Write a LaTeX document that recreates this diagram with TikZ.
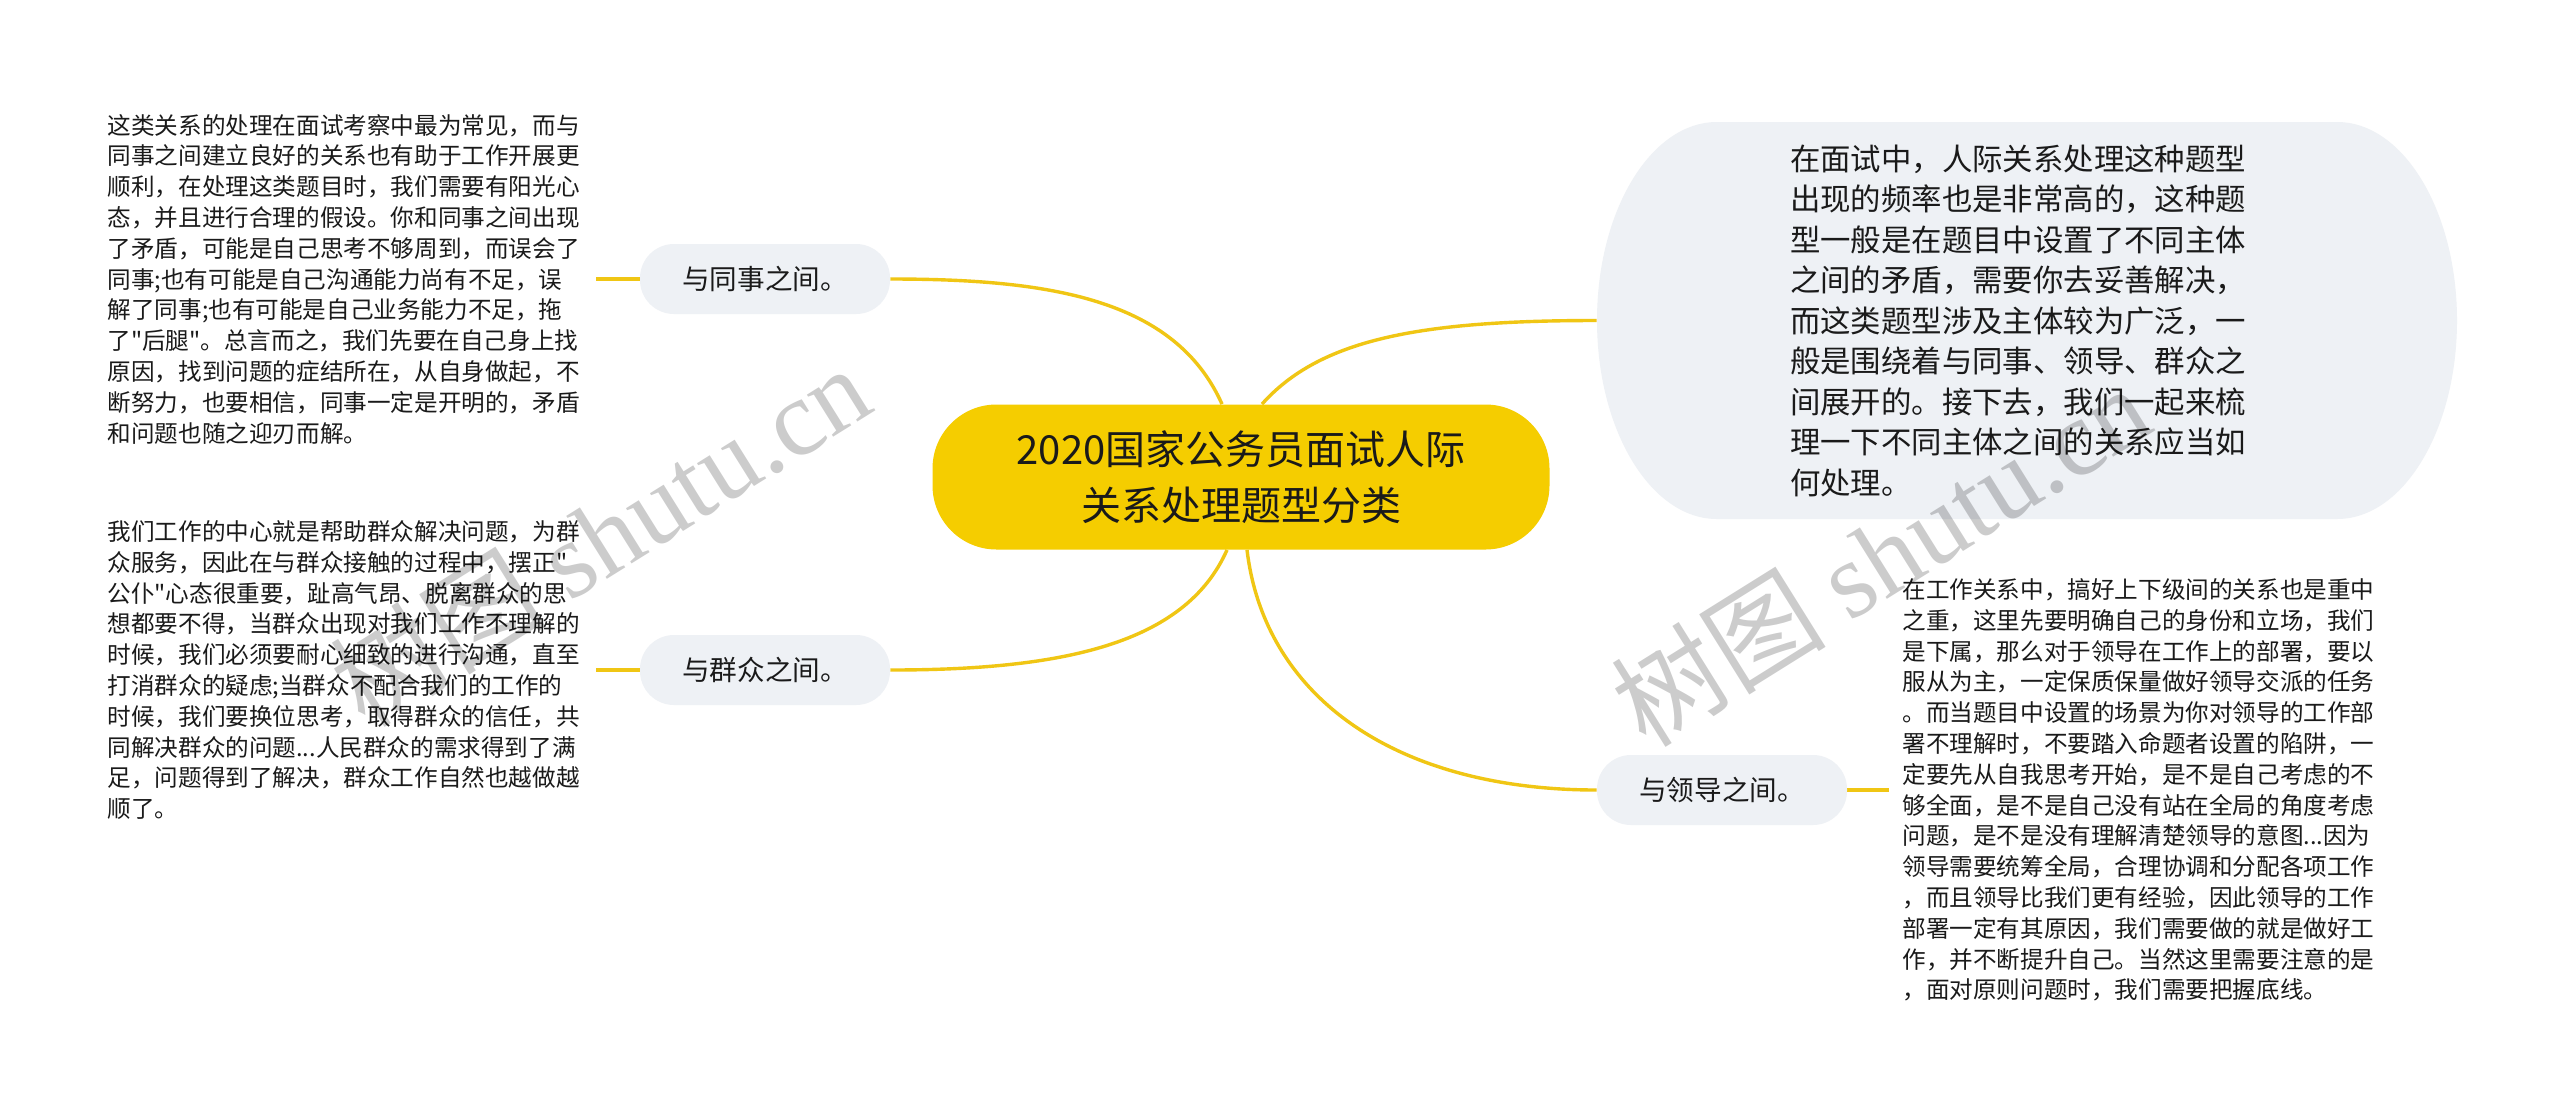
\documentclass[tikz,border=0pt]{standalone}
\usepackage{fontspec}
\setmainfont{Noto Sans CJK SC}[Ligatures=TeXOff]
\newfontfamily\wmfont{Liberation Serif}
\usetikzlibrary{backgrounds}
\definecolor{cyellow}{RGB}{245,205,0}
\definecolor{lyellow}{RGB}{240,198,20}
\definecolor{bfill}{RGB}{238,241,245}
\definecolor{tcol}{RGB}{26,26,26}
\tikzset{
  rootbox/.style={fill=cyellow, rounded corners=32pt, minimum width=308.5pt, minimum height=72.5pt,
    align=center, text=tcol, font=\fontsize{20}{28}\selectfont, inner sep=0pt},
  branchbox/.style={fill=bfill, rounded corners=17pt, minimum width=125pt, minimum height=35pt,
    text=tcol, font=\fontsize{13.8}{16}\selectfont, inner sep=0pt},
  detail/.style={align=left, text=tcol, font=\fontsize{11.8}{15.4}\selectfont, inner xsep=8pt, inner ysep=0pt},
  bubtext/.style={align=left, text=tcol, font=\fontsize{15.2}{20.25}\selectfont, inner sep=0pt},
  conn/.style={draw=lyellow, line width=1.7pt},
  wm/.style={text=black, text opacity=0.2, font=\fontsize{54}{54}\selectfont, inner sep=0pt}
}
\begin{document}
\begin{tikzpicture}[x=0.5pt,y=-0.5pt]
\useasboundingbox (0,0) rectangle (2560,1115);

% central node
\node[rootbox] (root) at (1241,477) {2020国家公务员面试人际\\关系处理题型分类};

% branch nodes
\node[branchbox] (ts) at (765,279) {与同事之间。};
\node[branchbox] (qz) at (765,670) {与群众之间。};
\node[branchbox] (ld) at (1722,790) {与领导之间。};

% bubble area (invisible frame) and its text
\node[minimum width=430pt, minimum height=198.5pt, inner sep=0pt] (bub) at (2027,320.5) {};
\node[bubtext] (bubt) at (2018,320.5) {在面试中，人际关系处理这种题型\\
出现的频率也是非常高的，这种题\\
型一般是在题目中设置了不同主体\\
之间的矛盾，需要你去妥善解决，\\
而这类题型涉及主体较为广泛，一\\
般是围绕着与同事、领导、群众之\\
间展开的。接下去，我们一起来梳\\
理一下不同主体之间的关系应当如\\
何处理。};

% detail texts
\node[detail, anchor=east] (tst) at (596,279) {这类关系的处理在面试考察中最为常见，而与\\
同事之间建立良好的关系也有助于工作开展更\\
顺利，在处理这类题目时，我们需要有阳光心\\
态，并且进行合理的假设。你和同事之间出现\\
了矛盾，可能是自己思考不够周到，而误会了\\
同事;也有可能是自己沟通能力尚有不足，误\\
解了同事;也有可能是自己业务能力不足，拖\\
了"后腿"。总言而之，我们先要在自己身上找\\
原因，找到问题的症结所在，从自身做起，不\\
断努力，也要相信，同事一定是开明的，矛盾\\
和问题也随之迎刃而解。};

\node[detail, anchor=east] (qzt) at (596,670) {我们工作的中心就是帮助群众解决问题，为群\\
众服务，因此在与群众接触的过程中，摆正"\\
公仆"心态很重要，趾高气昂、脱离群众的思\\
想都要不得，当群众出现对我们工作不理解的\\
时候，我们必须要耐心细致的进行沟通，直至\\
打消群众的疑虑;当群众不配合我们的工作的\\
时候，我们要换位思考，取得群众的信任，共\\
同解决群众的问题...人民群众的需求得到了满\\
足，问题得到了解决，群众工作自然也越做越\\
顺了。};

\node[detail, anchor=west, inner xsep=6.5pt] (ldt) at (1889,790) {在工作关系中，搞好上下级间的关系也是重中\\
之重，这里先要明确自己的身份和立场，我们\\
是下属，那么对于领导在工作上的部署，要以\\
服从为主，一定保质保量做好领导交派的任务\\
。而当题目中设置的场景为你对领导的工作部\\
署不理解时，不要踏入命题者设置的陷阱，一\\
定要先从自我思考开始，是不是自己考虑的不\\
够全面，是不是自己没有站在全局的角度考虑\\
问题，是不是没有理解清楚领导的意图...因为\\
领导需要统筹全局，合理协调和分配各项工作\\
，而且领导比我们更有经验，因此领导的工作\\
部署一定有其原因，我们需要做的就是做好工\\
作，并不断提升自己。当然这里需要注意的是\\
，面对原则问题时，我们需要把握底线。};

\begin{pgfonlayer}{background}
  \fill[white] (0,0) rectangle (2560,1115);
  % connectors
  \draw[conn] ([xshift=-9.5pt]root.north) .. controls +(-47,-105) and +(160,0) .. (ts.east);
  \draw[conn] ([xshift=10.5pt]root.north) .. controls +(58,-65) and +(-177,0) .. (bub.west);
  \draw[conn] ([xshift=-7pt]root.south) .. controls +(-42,95) and +(170,0) .. (qz.east);
  \draw[conn] ([xshift=3pt]root.south) .. controls +(18,150) and +(-197,0) .. (ld.west);
  \draw[conn] (ts.west) -- (tst.east);
  \draw[conn] (qz.west) -- (qzt.east);
  \draw[conn] (ld.east) -- (ldt.west);
  % bubble shape
  \fill[bfill] (1717,122) -- (2337,122)
    .. controls (2403.3,122) and (2457,210.9) .. (2457,320.5)
    .. controls (2457,430.1) and (2403.3,519) .. (2337,519)
    -- (1717,519)
    .. controls (1650.7,519) and (1597,430.1) .. (1597,320.5)
    .. controls (1597,210.9) and (1650.7,122) .. cycle;
\end{pgfonlayer}

% watermarks
\node[wm, rotate=32] (wm1) at (600,535) {树图 {\wmfont shutu.cn}};
\node[wm, rotate=32] (wm2) at (1880,555) {树图 {\wmfont shutu.cn}};
\end{tikzpicture}
\end{document}
